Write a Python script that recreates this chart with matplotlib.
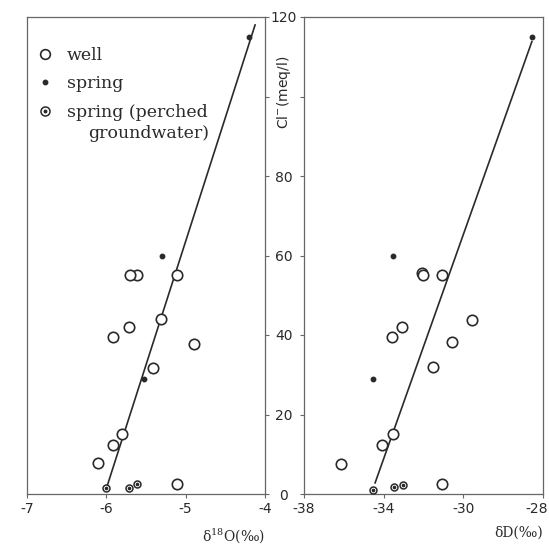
import matplotlib
matplotlib.use("Agg")
import matplotlib.pyplot as plt
from matplotlib.lines import Line2D
import matplotlib.transforms as mtransforms

plt.rcParams['axes.unicode_minus'] = False
plt.rcParams['mathtext.fontset'] = 'dejavuserif'

# left panel: delta 18O (per mil) vs Cl- (meq/l)
o18_well = [-5.11, -5.61, -5.70, -5.31, -5.71, -5.91, -4.90, -5.41, -5.80, -5.91, -6.11, -5.11]
cl_well_o = [55, 55, 55, 44, 42, 39.5, 37.7, 31.7, 15.1, 12.3, 7.8, 2.5]
o18_spring = [-4.20, -5.30, -5.52]
cl_spring_o = [115, 60, 29]
o18_perched = [-6.00, -5.71, -5.61]
cl_perched_o = [1.5, 1.5, 2.5]
o18_line = [-5.99, -4.125]
cl_line_o = [2, 118]

# right panel: delta D (per mil) vs Cl- (meq/l)
dd_well = [-31.08, -32.09, -32.05, -33.06, -33.56, -29.57, -30.55, -31.53, -33.54, -34.07, -36.16, -31.05]
cl_well_d = [55, 55.6, 55, 42.1, 39.4, 43.8, 38.3, 31.9, 15.1, 12.4, 7.5, 2.5]
dd_spring = [-26.53, -33.54, -34.52]
cl_spring_d = [115, 60, 28.9]
dd_perched = [-34.52, -33.48, -33.04]
cl_perched_d = [1.0, 1.8, 2.3]
dd_line = [-34.43, -26.56]
cl_line_d = [2.8, 113.8]

cl_ticks = [0, 20, 40, 60, 80, 100, 120]
cl_ticklabels = ['0', '20', '40', '60', '80', '', '120']

ink = '#2a2a2a'
spine_c = '#666666'

fig = plt.figure(figsize=(5.49, 5.51), dpi=100)
ax1 = fig.add_axes([27/549, 57/551, 238/549, 477/551])
ax2 = fig.add_axes([304/549, 57/551, 239/549, 477/551])


def draw(ax, xw, yw, xs, ys, xp, yp, xl, yl):
    ax.plot(xl, yl, color=ink, lw=1.2, zorder=2)
    ax.plot(xw, yw, 'o', ms=7.5, mfc='white', mec=ink, mew=1.2, zorder=3)
    ax.plot(xs, ys, 'o', ms=3.2, color=ink, zorder=3)
    ax.plot(xp, yp, 'o', ms=5, mfc='white', mec=ink, mew=1.1, zorder=3)
    ax.plot(xp, yp, 'o', ms=1.6, color=ink, zorder=4)
    for s in ax.spines.values():
        s.set_color(spine_c)
        s.set_linewidth(0.9)
    ax.set_ylim(0, 120)
    ax.tick_params(axis='x', direction='out', length=3, width=0.8, color=spine_c,
                   labelsize=10, pad=3, labelcolor=ink, top=False)


draw(ax1, o18_well, cl_well_o, o18_spring, cl_spring_o, o18_perched, cl_perched_o, o18_line, cl_line_o)
draw(ax2, dd_well, cl_well_d, dd_spring, cl_spring_d, dd_perched, cl_perched_d, dd_line, cl_line_d)

ax1.set_xlim(-7, -4)
ax1.set_xticks([-7, -6, -5, -4])
ax1.set_yticks(cl_ticks)
ax1.tick_params(axis='y', left=False, right=True, labelleft=False, labelright=False,
                direction='out', length=3, width=0.8, color=spine_c)

ax2.set_xlim(-38, -26)
ax2.set_xticks([-38, -34, -30, -26])
ax2.set_xticklabels(['-38', '-34', '-30', '-28'])
# last label sits at the figure edge, nudge it in a little
last = ax2.get_xticklabels()[-1]
last.set_transform(last.get_transform() +
                   mtransforms.ScaledTranslation(-6/100, 0, fig.dpi_scale_trans))
ax2.set_yticks(cl_ticks)
ax2.set_yticklabels(cl_ticklabels)
ax2.tick_params(axis='y', left=True, right=False, direction='out', length=3, width=0.8,
                color=spine_c, labelsize=10, labelcolor=ink, pad=11.5)
for lab in ax2.get_yticklabels():
    lab.set_ha('center')

ax2.text(-0.082, 101, 'Cl$^{-}$(meq/l)', transform=ax2.get_yaxis_transform(),
         rotation=90, ha='center', va='center', fontsize=10, color=ink,
         family='DejaVu Sans', math_fontfamily='dejavusans')

ax1.set_xlabel('δ$^{18}$O(‰)', loc='right', fontsize=10, family='DejaVu Serif',
               color=ink, labelpad=7)
ax2.set_xlabel('δD(‰)', loc='right', fontsize=10, family='DejaVu Serif',
               color=ink, labelpad=7)

# legend
h_well = Line2D([], [], ls='', marker='o', ms=7, mfc='white', mec=ink, mew=1.2)
h_spring = Line2D([], [], ls='', marker='o', ms=3.2, color=ink)
h_p1 = Line2D([], [], ls='', marker='o', ms=6.5, mfc='white', mec=ink, mew=1.1)
h_p2 = Line2D([], [], ls='', marker='o', ms=1.8, color=ink)
leg = ax1.legend([h_well, h_spring, (h_p1, h_p2)],
                 ['well', 'spring', 'spring (perched'],
                 loc='upper left', bbox_to_anchor=(-0.025, 0.97), frameon=False,
                 handlelength=1.0, handletextpad=0.75, labelspacing=0.66,
                 prop={'family': 'DejaVu Serif', 'size': 12.5})
for t in leg.get_texts():
    t.set_color(ink)
ax1.text(0.256, 0.755, 'groundwater)', transform=ax1.transAxes, ha='left', va='center',
         fontsize=12.5, family='DejaVu Serif', color=ink)

fig.savefig('out.png', dpi=100)
